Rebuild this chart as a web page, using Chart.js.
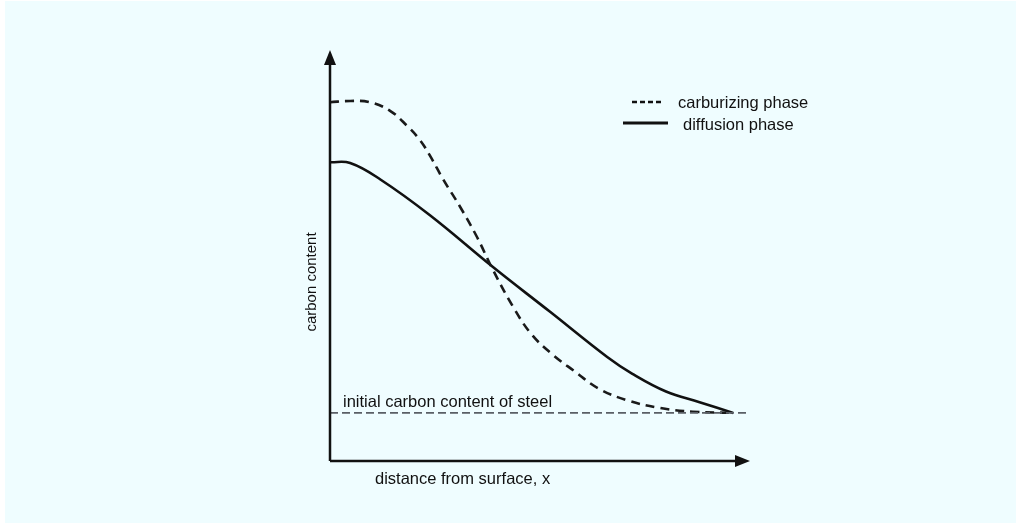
<!DOCTYPE html>
<html lang="en">
<head>
  <meta charset="UTF-8">
  <title>Carburizing vs diffusion phase</title>
  <style>
    html, body { margin: 0; padding: 0; background: #ffffff; }
    .wrap { position: absolute; left: 5px; top: 1px; width: 1011px; height: 522px; background: #effdff; }
    canvas { position: absolute; left: -5px; top: -1px; }
  </style>
</head>
<body>
  <div class="wrap">
    <canvas id="myChart" width="1021" height="526"></canvas>
  </div>

  <script src="https://cdn.jsdelivr.net/npm/chart.js"></script>
  <script>
    // distance from surface (0 = surface), carbon content (arbitrary units)
    const carbX = [0, 4.8, 9.5, 14.3, 18.3, 21.4, 23.8, 26.9, 31.0, 35.0, 38.8, 43.6, 48.0, 53.1, 58.0, 64.0, 70.7, 78.6, 86.4, 96.0];
    const carbY = [87.3, 87.6, 87.3, 85.2, 81.6, 78.1, 74.3, 68.6, 61.8, 54.5, 46.5, 37.5, 30.8, 25.8, 22.0, 17.6, 14.8, 12.9, 12.0, 11.7];
    const diffX = [0, 4.8, 12.0, 23.8, 38.8, 52.4, 66.0, 72.0, 80.0, 88.0, 96.0];
    const diffY = [72.7, 72.5, 68.5, 59.8, 47.2, 36.3, 25.3, 21.2, 16.9, 14.3, 11.7];
    const initX = [0, 99.3];
    const initY = [11.7, 11.7];

    const seriesLabels = ['carburizing phase', 'diffusion phase'];
    const initLabel = 'initial carbon content of steel';
    const xTitle = 'distance from surface, x';
    const yTitle = 'carbon content';

    const toPts = (xs, ys) => xs.map((x, i) => ({ x: x, y: ys[i] }));

    // axes with arrow heads, legend and labels
    const decor = {
      id: 'decor',
      afterDraw(chart) {
        const ctx = chart.ctx;
        const xs = chart.scales.x, ys = chart.scales.y;
        const x0 = xs.getPixelForValue(0), y0 = ys.getPixelForValue(0);
        const xEnd = xs.getPixelForValue(100), yEnd = ys.getPixelForValue(100);
        ctx.save();
        ctx.strokeStyle = '#111';
        ctx.fillStyle = '#111';
        ctx.lineWidth = 2.5;
        ctx.setLineDash([]);
        ctx.beginPath();
        ctx.moveTo(x0, y0);
        ctx.lineTo(x0, yEnd + 8);
        ctx.moveTo(x0, y0);
        ctx.lineTo(xEnd - 8, y0);
        ctx.stroke();
        // arrow heads
        ctx.beginPath();
        ctx.moveTo(x0, yEnd);
        ctx.lineTo(x0 - 6, yEnd + 15);
        ctx.lineTo(x0 + 6, yEnd + 15);
        ctx.closePath();
        ctx.fill();
        ctx.beginPath();
        ctx.moveTo(xEnd, y0);
        ctx.lineTo(xEnd - 15, y0 - 6);
        ctx.lineTo(xEnd - 15, y0 + 6);
        ctx.closePath();
        ctx.fill();

        ctx.font = '16.5px "Liberation Sans", Arial, sans-serif';
        ctx.textBaseline = 'middle';
        ctx.textAlign = 'left';
        ctx.fillText(initLabel, 343, 402);
        ctx.fillText(xTitle, 375, 479);

        // legend
        ctx.lineWidth = 2.5;
        ctx.setLineDash([5, 3]);
        ctx.beginPath();
        ctx.moveTo(632, 102);
        ctx.lineTo(664, 102);
        ctx.stroke();
        ctx.setLineDash([]);
        ctx.lineWidth = 3;
        ctx.beginPath();
        ctx.moveTo(623, 123);
        ctx.lineTo(668, 123);
        ctx.stroke();
        ctx.fillText(seriesLabels[0], 678, 103);
        ctx.fillText(seriesLabels[1], 683, 125);

        ctx.translate(312, 282);
        ctx.rotate(-Math.PI / 2);
        ctx.textAlign = 'center';
        ctx.font = '15px "Liberation Sans", Arial, sans-serif';
        ctx.fillText(yTitle, 0, 0);
        ctx.restore();
      }
    };

    const ctx = document.getElementById('myChart').getContext('2d');
    new Chart(ctx, {
      type: 'scatter',
      data: {
        datasets: [
          {
            label: initLabel,
            data: toPts(initX, initY),
            showLine: true,
            borderColor: '#5a5f66',
            borderWidth: 1.6,
            borderDash: [8, 4],
            pointRadius: 0
          },
          {
            label: seriesLabels[0],
            data: toPts(carbX, carbY),
            showLine: true,
            borderColor: '#1a1a1a',
            borderWidth: 2.6,
            borderDash: [9, 6],
            tension: 0.4,
            pointRadius: 0
          },
          {
            label: seriesLabels[1],
            data: toPts(diffX, diffY),
            showLine: true,
            borderColor: '#111',
            borderWidth: 2.6,
            tension: 0.4,
            pointRadius: 0
          }
        ]
      },
      options: {
        responsive: false,
        animation: false,
        layout: { padding: { left: 330, right: 271, top: 50, bottom: 65 } },
        scales: {
          x: { type: 'linear', min: 0, max: 100, display: false },
          y: { type: 'linear', min: 0, max: 100, display: false }
        },
        plugins: {
          legend: { display: false },
          tooltip: { enabled: false }
        }
      },
      plugins: [decor]
    });
  </script>
</body>
</html>
